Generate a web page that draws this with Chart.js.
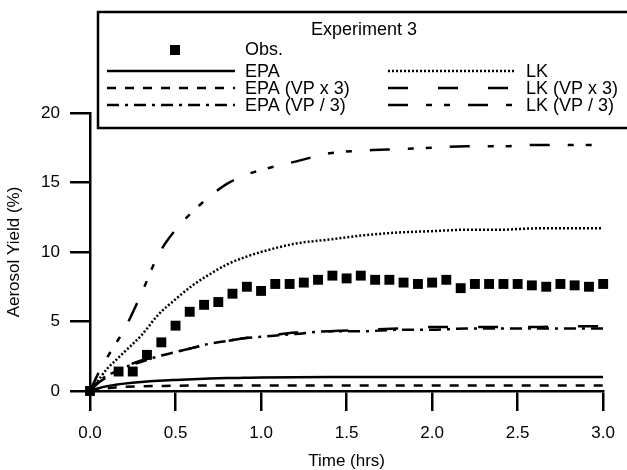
<!DOCTYPE html>
<html>
<head>
<meta charset="utf-8">
<script src="https://cdn.jsdelivr.net/npm/chart.js@4.4.1/dist/chart.umd.min.js"></script>
<style>
    html, body { margin: 0; padding: 0; background: #fff; }
    #wrap { width: 627px; height: 470px; }
</style>
</head>
<body>
<div id="wrap"><canvas id="myChart" width="627" height="470"></canvas></div>
<script>
// time grid (hrs) for the model curves
const times = [0, 0.05, 0.1, 0.15, 0.2, 0.3, 0.4, 0.5, 0.6, 0.7, 0.8, 0.9, 1.0, 1.2, 1.4, 1.6, 1.8, 2.0, 2.2, 2.4, 2.6, 2.8, 3.0];

const epa      = [0, 0.2, 0.35, 0.45, 0.53, 0.65, 0.74, 0.8, 0.85, 0.9, 0.93, 0.95, 0.97, 0.99, 1.0, 1.0, 1.0, 1.0, 1.0, 1.0, 1.0, 1.0, 1.0];
const epaVpX3  = [0, 0.12, 0.2, 0.26, 0.3, 0.34, 0.36, 0.38, 0.39, 0.4, 0.4, 0.4, 0.4, 0.4, 0.4, 0.4, 0.4, 0.4, 0.4, 0.4, 0.4, 0.4, 0.4];
const epaVpD3  = [0, 0.7, 1.1, 1.4, 1.7, 2.1, 2.5, 2.8, 3.1, 3.4, 3.6, 3.8, 3.9, 4.1, 4.3, 4.3, 4.4, 4.4, 4.5, 4.5, 4.5, 4.5, 4.5];
const lk       = [0, 0.8, 1.6, 2.2, 2.8, 4.0, 5.5, 6.6, 7.6, 8.4, 9.1, 9.6, 10.0, 10.6, 10.9, 11.2, 11.4, 11.5, 11.6, 11.6, 11.7, 11.7, 11.7];
const lkVpX3   = [0, 0.6, 1.0, 1.3, 1.7, 2.2, 2.5, 2.8, 3.1, 3.4, 3.6, 3.8, 3.9, 4.2, 4.3, 4.4, 4.5, 4.6, 4.6, 4.6, 4.6, 4.65, 4.65];
const lkVpD3   = [0, 1.3, 2.4, 3.4, 4.4, 7.0, 9.8, 11.6, 12.9, 14.0, 14.9, 15.5, 15.9, 16.5, 17.1, 17.3, 17.4, 17.5, 17.6, 17.6, 17.7, 17.7, 17.7];

// observations, every 5 min
const obsTimes = [0, 0.167, 0.25, 0.333, 0.417, 0.5, 0.583, 0.667, 0.75, 0.833, 0.917, 1.0, 1.083, 1.167, 1.25, 1.333, 1.417, 1.5, 1.583, 1.667, 1.75, 1.833, 1.917, 2.0, 2.083, 2.167, 2.25, 2.333, 2.417, 2.5, 2.583, 2.667, 2.75, 2.833, 2.917, 3.0];
const obsYield = [0, 1.4, 1.4, 2.6, 3.5, 4.7, 5.7, 6.2, 6.4, 7.0, 7.5, 7.2, 7.7, 7.7, 7.8, 8.0, 8.3, 8.1, 8.3, 8.0, 8.0, 7.8, 7.7, 7.8, 8.0, 7.4, 7.7, 7.7, 7.7, 7.7, 7.6, 7.5, 7.7, 7.6, 7.5, 7.7];

const xTicks = [0, 0.5, 1.0, 1.5, 2.0, 2.5, 3.0];
const yTicks = [0, 5, 10, 15, 20];

const FONT = '"Liberation Sans", Arial, sans-serif';

function toPoints(xs, ys) {
    return xs.map((x, i) => ({x: x, y: ys[i]}));
}

function lineSet(label, values, dash) {
    return {
        label: label,
        data: toPoints(times, values),
        borderColor: '#000',
        borderWidth: 2.5,
        borderDash: dash,
        borderCapStyle: 'butt',
        pointRadius: 0,
        fill: false,
        cubicInterpolationMode: 'monotone',
    };
}

const legendBox = {
    id: 'legendBox',
    afterDraw(chart) {
        const ctx = chart.ctx;
        const ds = chart.data.datasets;
        ctx.save();
        ctx.strokeStyle = '#000';
        ctx.lineWidth = 2.5;
        ctx.strokeRect(98, 12, 560, 116);
        ctx.font = '18px ' + FONT;
        ctx.fillStyle = '#000';
        ctx.textBaseline = 'middle';
        ctx.textAlign = 'center';
        ctx.fillText('Experiment 3', 364, 30);
        ctx.textAlign = 'left';
        ctx.fillRect(170, 45, 10, 10);
        ctx.fillText(ds[0].label, 245, 50);
        const rows = [[1, 107, 71], [2, 107, 88], [3, 107, 105], [4, 388, 71], [5, 388, 88], [6, 388, 105]];
        rows.forEach(([i, x, y]) => {
            ctx.setLineDash(ds[i].borderDash || []);
            ctx.lineWidth = ds[i].borderWidth;
            ctx.beginPath();
            ctx.moveTo(x, y);
            ctx.lineTo(x + 128, y);
            ctx.stroke();
            ctx.setLineDash([]);
            ctx.fillText(ds[i].label, x + 138, y + 1);
        });
        ctx.restore();
    }
};

Chart.defaults.font.family = FONT;
Chart.defaults.font.size = 17;
Chart.defaults.color = '#000';

const config = {
    type: 'line',
    data: {
        datasets: [
            {
                label: 'Obs.',
                data: toPoints(obsTimes, obsYield),
                showLine: false,
                pointStyle: 'rect',
                pointRadius: 7,
                pointBackgroundColor: '#000',
                pointBorderColor: '#000',
                pointBorderWidth: 0,
                clip: false,
            },
            lineSet('EPA', epa, []),
            lineSet('EPA (VP x 3)', epaVpX3, [9, 9]),
            lineSet('EPA (VP / 3)', epaVpD3, [12, 6, 3, 6]),
            lineSet('LK', lk, [2, 2]),
            lineSet('LK (VP x 3)', lkVpX3, [20, 30]),
            lineSet('LK (VP / 3)', lkVpD3, [20, 18, 6, 12, 6, 18]),
        ]
    },
    options: {
        responsive: false,
        animation: false,
        events: [],
        layout: { padding: { top: 113, right: 20, left: 0, bottom: 0 } },
        plugins: {
            legend: { display: false },
            tooltip: { enabled: false },
        },
        scales: {
            x: {
                type: 'linear',
                min: 0,
                max: 3,
                afterFit: (scale) => { scale.height = 79; },
                afterBuildTicks: (scale) => { scale.ticks = xTicks.map(v => ({value: v})); },
                ticks: { padding: 12, maxRotation: 0, callback: (v) => v.toFixed(1) },
                grid: { drawOnChartArea: false, drawTicks: true, tickLength: 20, color: '#000', lineWidth: 2.5 },
                border: { display: true, color: '#000', width: 2.5 },
                title: { display: true, text: 'Time (hrs)', padding: { top: 0, bottom: -2 } },
            },
            y: {
                min: 0,
                max: 20,
                afterFit: (scale) => { scale.width = 90; },
                afterBuildTicks: (scale) => { scale.ticks = yTicks.map(v => ({value: v})); },
                ticks: { padding: 10 },
                grid: { drawOnChartArea: false, drawTicks: true, tickLength: 20, color: '#000', lineWidth: 2.5 },
                border: { display: true, color: '#000', width: 2.5 },
                title: { display: true, text: 'Aerosol Yield (%)', padding: { top: 4, bottom: 4 } },
            }
        }
    },
    plugins: [legendBox]
};

window.onload = function () {
    new Chart(document.getElementById('myChart'), config);
};
</script>
</body>
</html>
